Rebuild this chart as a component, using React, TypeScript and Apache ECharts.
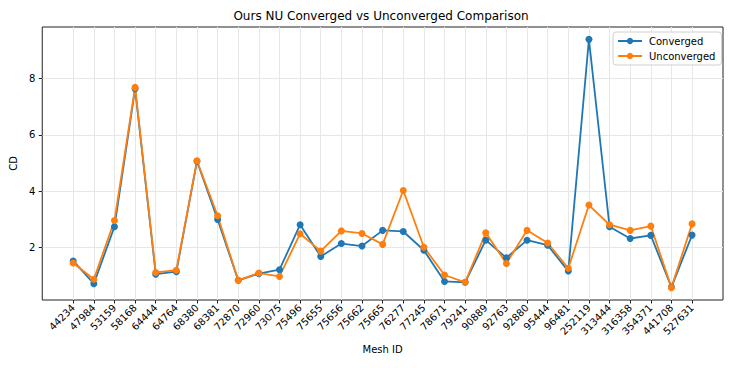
import React, { useEffect, useRef } from "react";
import * as echarts from "echarts";

const meshIds = [
  "44234", "47984", "53159", "58168", "64444", "64764", "68380", "68381",
  "72870", "72960", "73075", "75496", "75655", "75656", "75662", "75665",
  "76277", "77245", "78671", "79241", "90889", "92763", "92880", "95444",
  "96481", "252119", "313444", "316358", "354371", "441708", "527631",
];

const converged = [
  1.51, 0.70, 2.73, 7.64, 1.04, 1.13, 5.06, 2.99,
  0.82, 1.06, 1.20, 2.80, 1.67, 2.13, 2.04, 2.60,
  2.56, 1.89, 0.78, 0.75, 2.25, 1.62, 2.25, 2.07,
  1.15, 9.40, 2.73, 2.31, 2.42, 0.58, 2.43,
];

const unconverged = [
  1.44, 0.86, 2.95, 7.69, 1.10, 1.18, 5.08, 3.12,
  0.82, 1.08, 0.96, 2.48, 1.86, 2.58, 2.49, 2.10,
  4.02, 2.00, 1.01, 0.75, 2.51, 1.42, 2.60, 2.15,
  1.25, 3.50, 2.80, 2.60, 2.75, 0.56, 2.83,
];

const yTicks = [2, 4, 6, 8];

const FONT = "DejaVu Sans";

export default function App() {
  const ref = useRef<HTMLDivElement>(null);

  useEffect(() => {
    if (!ref.current) return;
    const chart = echarts.init(ref.current, null, { renderer: "svg" });
    const xIdx = meshIds.map((_, i) => i);
    const mk = (vals: number[]) => vals.map((v, i) => [i, v]);

    chart.setOption({
      animation: false,
      backgroundColor: "#ffffff",
      textStyle: { fontFamily: FONT },
      title: {
        text: "Ours NU Converged vs Unconverged Comparison",
        left: 381,
        top: 10,
        padding: 0,
        textAlign: "center",
        textStyle: { fontFamily: FONT, fontSize: 12, fontWeight: "normal", color: "#000" },
      },
      legend: {
        orient: "vertical",
        left: 613,
        top: 32,
        padding: [4, 6, 4, 4],
        itemGap: 5,
        itemWidth: 24,
        itemHeight: 8,
        borderColor: "#d0d0d0",
        borderWidth: 1,
        borderRadius: 3,
        backgroundColor: "rgba(255,255,255,0.8)",
        textStyle: { fontFamily: FONT, fontSize: 10, color: "#000", padding: [0, 0, 0, 2] },
        data: ["Converged", "Unconverged"],
      },
      grid: {
        left: 39,
        right: 11,
        top: 27,
        bottom: 68,
        show: true,
        borderColor: "#222",
        borderWidth: 1,
        backgroundColor: "transparent",
      },
      xAxis: {
        type: "value",
        min: -1.5,
        max: meshIds.length - 1 + 1.5,
        name: "Mesh ID",
        nameLocation: "middle",
        nameGap: 44,
        nameTextStyle: { fontFamily: FONT, fontSize: 10, color: "#000" },
        axisLine: { show: false, onZero: false },
        axisTick: {
          show: true,
          length: 3.5,
          customValues: xIdx,
          lineStyle: { color: "#222", width: 1 },
        },
        axisLabel: {
          customValues: xIdx,
          rotate: 45,
          margin: 6,
          fontFamily: FONT,
          fontSize: 10,
          color: "#000",
          formatter: (v: number) => meshIds[Math.round(v)] ?? "",
        },
        splitLine: { show: true, lineStyle: { color: "#e7e7e7", width: 1 } },
      },
      yAxis: {
        type: "value",
        min: 0.12,
        max: 9.84,
        name: "CD",
        nameLocation: "middle",
        nameGap: 19,
        nameRotate: 90,
        nameTextStyle: { fontFamily: FONT, fontSize: 10, color: "#000" },
        axisLine: { show: false, onZero: false },
        axisTick: {
          show: true,
          length: 3.5,
          customValues: yTicks,
          lineStyle: { color: "#222", width: 1 },
        },
        axisLabel: {
          customValues: yTicks,
          margin: 7,
          fontFamily: FONT,
          fontSize: 10,
          color: "#000",
        },
        splitLine: { show: true, lineStyle: { color: "#e7e7e7", width: 1 } },
      },
      series: [
        {
          name: "Converged",
          type: "line",
          data: mk(converged),
          symbol: "circle",
          symbolSize: 7,
          showAllSymbol: true,
          color: "#1f77b4",
          lineStyle: { width: 1.8, color: "#1f77b4" },
          itemStyle: { color: "#1f77b4" },
          emphasis: { disabled: true },
        },
        {
          name: "Unconverged",
          type: "line",
          data: mk(unconverged),
          symbol: "circle",
          symbolSize: 7,
          showAllSymbol: true,
          color: "#ff7f0e",
          lineStyle: { width: 1.8, color: "#ff7f0e" },
          itemStyle: { color: "#ff7f0e" },
          emphasis: { disabled: true },
        },
      ],
    });

    return () => chart.dispose();
  }, []);

  return (
    <div
      ref={ref}
      style={{ position: "fixed", left: 0, top: 0, width: 734, height: 368 }}
    />
  );
}
